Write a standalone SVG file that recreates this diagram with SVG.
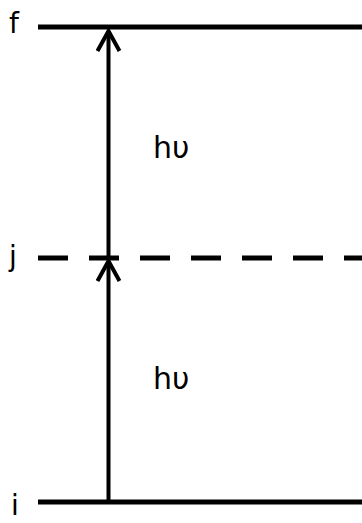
<svg xmlns="http://www.w3.org/2000/svg" width="362" height="523" viewBox="0 0 362 523">
<style>
.lvl{stroke:#000;stroke-width:5;fill:none}
.arr{stroke:#000;stroke-width:4;fill:none}
.lbl{font-family:"DejaVu Sans",Verdana,sans-serif;font-size:28px;fill:#000}
.hv{font-family:"DejaVu Sans",Verdana,sans-serif;font-size:30px;fill:#000}
</style>
<defs>
<marker id="head" viewBox="0 0 26 26" markerWidth="26" markerHeight="26" refX="23" refY="13" orient="auto" markerUnits="userSpaceOnUse">
<path d="M3,2 L23,13 L3,24" fill="none" stroke="#000" stroke-width="4"/>
</marker>
</defs>
<g id="level-f"><line class="lvl" x1="38" y1="27" x2="362" y2="27"/><text class="lbl" x="9" y="33">f</text></g>
<g id="level-j"><line class="lvl" x1="38" y1="258" x2="362" y2="258" stroke-dasharray="30 21"/><text class="lbl" x="9" y="266">j</text></g>
<g id="level-i"><line class="lvl" x1="38" y1="502" x2="362" y2="502"/><text class="lbl" x="11" y="515">i</text></g>
<g id="connectors">
<line class="arr" x1="108.5" y1="258" x2="108.5" y2="31" marker-end="url(#head)"/>
<line class="arr" x1="108.5" y1="502" x2="108.5" y2="261" marker-end="url(#head)"/>
</g>
<g id="label-upper"><text class="hv" x="153" y="158">hυ</text></g>
<g id="label-lower"><text class="hv" x="153" y="389">hυ</text></g>
</svg>
